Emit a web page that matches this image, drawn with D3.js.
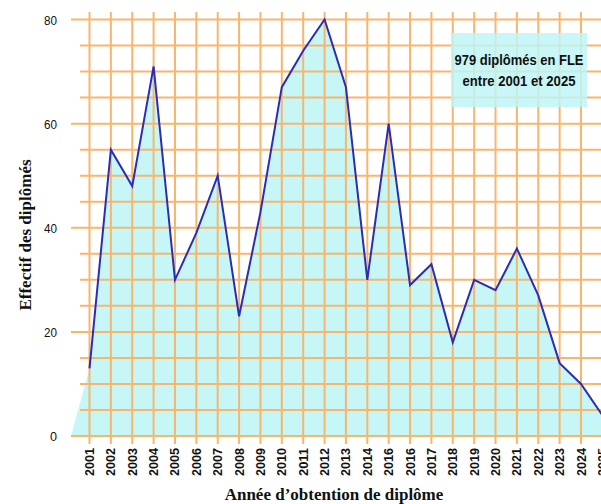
<!DOCTYPE html>
<html>
<head>
<meta charset="utf-8">
<script src="https://cdn.jsdelivr.net/npm/d3@7"></script>
<style>
  html, body { margin: 0; padding: 0; background: #fff; }
  svg { display: block; }
</style>
</head>
<body>
<svg id="chart" width="601" height="504"></svg>
<script>
// Number of graduates per year of graduation
const years = [2001, 2002, 2003, 2004, 2005, 2006, 2007, 2008, 2009, 2010, 2011, 2012, 2013,
               2014, 2015, 2016, 2017, 2018, 2019, 2020, 2021, 2022, 2023, 2024, 2025];
const graduates = [13, 55, 48, 71, 30, 39, 50, 23, 43, 67, 74, 80, 67,
                   30, 60, 29, 33, 18, 30, 28, 36, 27, 14, 10, 4];
// Year labels printed under the axis
const yearLabels = ["2001", "2002", "2003", "2004", "2005", "2006", "2007", "2008", "2009", "2010",
                    "2011", "2012", "2013", "2014", "2016", "2016", "2017", "2018", "2019", "2020",
                    "2021", "2022", "2023", "2024", "2025"];
const yTicks = [0, 20, 40, 60, 80];
const yGrid = d3.range(0, 85, 5);
const boxLines = ["979 diplômés en FLE", "entre 2001 et 2025"];

const W = 601, H = 504;
const plotLeft = 71, gridLeft = 80;

const svg = d3.select("#chart");

const x = d3.scaleLinear().domain([2001, 2024]).range([89.5, 581]);
const y = d3.scaleLinear().domain([0, 80]).range([436, 19.5]);

const data = years.map((yr, i) => ({ year: yr, value: graduates[i] }));

// Filled area (starts from the baseline at the left edge of the plot)
const areaData = [{ year: x.invert(plotLeft), value: 0 }].concat(data);
const area = d3.area()
  .x(d => x(d.year))
  .y0(y(0))
  .y1(d => y(d.value));

svg.append("path")
  .datum(areaData)
  .attr("d", area)
  .attr("fill", "#c6f6f6");

// Grid
const gridColor = "#f7b66c";
const grid = svg.append("g").attr("stroke", gridColor).attr("stroke-width", 2);

grid.selectAll("line.h")
  .data(yGrid)
  .join("line")
  .attr("class", "h")
  .attr("x1", d => (d % 20 === 0 ? plotLeft : gridLeft))
  .attr("x2", W)
  .attr("y1", d => y(d))
  .attr("y2", d => y(d));

grid.selectAll("line.v")
  .data(years)
  .join("line")
  .attr("class", "v")
  .attr("x1", d => x(d))
  .attr("x2", d => x(d))
  .attr("y1", 12)
  .attr("y2", y(0) + 8);

// Line
const line = d3.line()
  .x(d => x(d.year))
  .y(d => y(d.value));

svg.append("path")
  .datum(data)
  .attr("d", line)
  .attr("fill", "none")
  .attr("stroke", "#2c2cb4")
  .attr("stroke-width", 2)
  .attr("stroke-linejoin", "miter");

// Y tick labels
svg.append("g")
  .selectAll("text")
  .data(yTicks)
  .join("text")
  .attr("x", 57)
  .attr("y", d => y(d) + 5)
  .attr("text-anchor", "end")
  .attr("font-family", "Liberation Sans, Arial, sans-serif")
  .attr("font-size", 13.5)
  .attr("textLength", d => (d === 0 ? 7 : 13))
  .attr("lengthAdjust", "spacingAndGlyphs")
  .attr("fill", "#111")
  .text(d => d);

// X tick labels (rotated)
svg.append("g")
  .selectAll("text")
  .data(years)
  .join("text")
  .attr("transform", d => `translate(${x(d) + 4.5},448) rotate(-90)`)
  .attr("text-anchor", "end")
  .attr("font-family", "Liberation Sans, Arial, sans-serif")
  .attr("font-weight", "bold")
  .attr("font-size", 12.5)
  .attr("textLength", 28)
  .attr("lengthAdjust", "spacingAndGlyphs")
  .attr("fill", "#111")
  .text((d, i) => yearLabels[i]);

// Axis titles
svg.append("text")
  .attr("transform", "translate(31,235) rotate(-90)")
  .attr("text-anchor", "middle")
  .attr("font-family", "Liberation Serif, Times New Roman, serif")
  .attr("font-weight", "bold")
  .attr("font-size", 17)
  .attr("fill", "#111")
  .text("Effectif des diplômés");

svg.append("text")
  .attr("x", 334)
  .attr("y", 500)
  .attr("text-anchor", "middle")
  .attr("font-family", "Liberation Serif, Times New Roman, serif")
  .attr("font-weight", "bold")
  .attr("font-size", 17)
  .attr("fill", "#111")
  .text("Année d’obtention de diplôme");

// Summary box
svg.append("rect")
  .attr("x", 451)
  .attr("y", 33)
  .attr("width", 136)
  .attr("height", 74)
  .attr("fill", "#bff4f4")
  .attr("fill-opacity", 0.85);

svg.append("g")
  .selectAll("text")
  .data(boxLines)
  .join("text")
  .attr("x", 519)
  .attr("y", (d, i) => 65 + i * 21)
  .attr("text-anchor", "middle")
  .attr("font-family", "Liberation Sans, Arial, sans-serif")
  .attr("font-weight", "bold")
  .attr("font-size", 15.5)
  .attr("textLength", (d, i) => (i === 0 ? 129 : 113))
  .attr("lengthAdjust", "spacingAndGlyphs")
  .attr("fill", "#111")
  .text(d => d);
</script>
</body>
</html>
